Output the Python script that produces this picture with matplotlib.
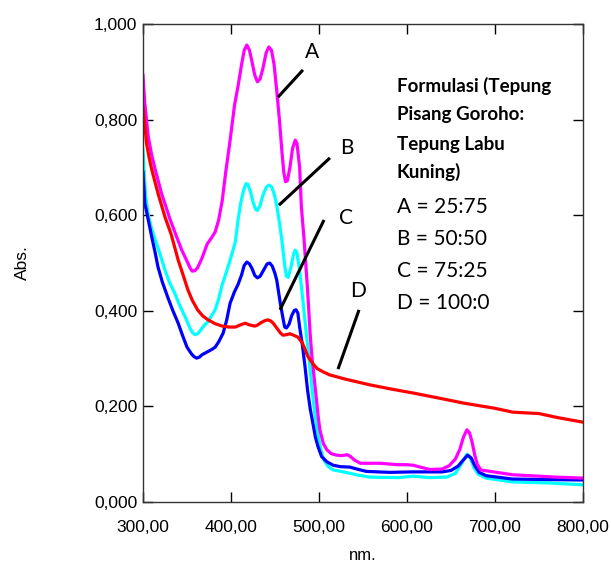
import matplotlib
matplotlib.use("Agg")
import matplotlib.pyplot as plt

# ---------------- data ----------------
wl_A = [300, 302, 306, 310, 314, 321, 331, 338, 344, 351, 354, 356, 359, 362, 367, 373, 378, 382, 386,
        390, 394, 399, 404, 408, 412, 415, 418, 421, 424, 427, 430, 433, 436, 440, 443, 446, 449, 452,
        455, 458, 460, 462, 464, 467, 470, 473, 475, 478, 480, 483, 487, 490, 492, 496, 499, 501, 505,
        509, 514, 520, 526, 532, 536, 540, 547, 569, 590, 600, 607, 615, 626, 640, 648, 655, 660, 664,
        668, 671, 674, 677, 680, 684, 702, 720, 740, 770, 800]
abs_A = [0.893, 0.835, 0.764, 0.725, 0.695, 0.646, 0.590, 0.556, 0.527, 0.500, 0.488, 0.483, 0.484,
         0.490, 0.510, 0.540, 0.553, 0.565, 0.590, 0.630, 0.690, 0.757, 0.830, 0.870, 0.915, 0.945,
         0.956, 0.945, 0.920, 0.893, 0.879, 0.885, 0.905, 0.940, 0.952, 0.945, 0.915, 0.860, 0.800,
         0.730, 0.690, 0.670, 0.672, 0.700, 0.740, 0.757, 0.750, 0.700, 0.617, 0.550, 0.444, 0.350,
         0.303, 0.234, 0.180, 0.151, 0.122, 0.109, 0.101, 0.098, 0.097, 0.099, 0.095, 0.088, 0.081,
         0.081, 0.078, 0.078, 0.077, 0.073, 0.068, 0.069, 0.076, 0.090, 0.110, 0.135, 0.151, 0.145,
         0.125, 0.098, 0.078, 0.067, 0.062, 0.057, 0.055, 0.052, 0.050]

wl_B = [300, 301, 303, 306, 310, 314, 320, 325, 330, 336, 342, 348, 353, 356, 359, 362, 365, 368, 374,
        378, 382, 386, 390, 393, 398, 402, 405, 408, 411, 414, 417, 419, 422, 425, 428, 430, 433, 436,
        440, 443, 446, 449, 452, 455, 458, 461, 463, 465, 468, 471, 473, 475, 478, 482, 486, 490, 493,
        496, 499, 502, 505, 510, 516, 525, 535, 545, 558, 590, 607, 625, 645, 655, 662, 668, 672, 676,
        681, 690, 720, 760, 800]
abs_B = [0.736, 0.700, 0.640, 0.600, 0.570, 0.548, 0.515, 0.485, 0.460, 0.437, 0.410, 0.387, 0.365,
         0.355, 0.350, 0.352, 0.358, 0.366, 0.378, 0.390, 0.402, 0.425, 0.455, 0.471, 0.500, 0.525,
         0.545, 0.590, 0.625, 0.650, 0.666, 0.665, 0.650, 0.628, 0.612, 0.610, 0.620, 0.640, 0.658,
         0.663, 0.660, 0.645, 0.620, 0.585, 0.545, 0.495, 0.472, 0.470, 0.490, 0.518, 0.527, 0.520,
         0.485, 0.416, 0.345, 0.276, 0.220, 0.175, 0.140, 0.110, 0.090, 0.075, 0.067, 0.064, 0.060,
         0.056, 0.052, 0.051, 0.054, 0.051, 0.052, 0.060, 0.080, 0.100, 0.092, 0.072, 0.058, 0.050,
         0.042, 0.040, 0.036]

wl_C = [300, 301, 302, 306, 310, 314, 317, 322, 328, 334, 340, 345, 350, 355, 358, 361, 364, 367, 370,
        375, 379, 382, 386, 391, 395, 399, 404, 408, 412, 415, 418, 421, 424, 427, 430, 433, 437, 441,
        444, 447, 450, 452, 456, 459, 461, 463, 466, 469, 472, 474, 476, 478, 481, 484, 487, 490, 493,
        496, 499, 503, 509, 516, 524, 535, 545, 554, 580, 607, 640, 650, 658, 664, 669, 673, 677, 682,
        690, 720, 760, 800]
abs_C = [0.690, 0.660, 0.626, 0.590, 0.554, 0.520, 0.492, 0.460, 0.429, 0.400, 0.374, 0.348, 0.324,
         0.310, 0.304, 0.301, 0.303, 0.308, 0.311, 0.316, 0.320, 0.324, 0.335, 0.353, 0.380, 0.416,
         0.440, 0.455, 0.475, 0.495, 0.502, 0.498, 0.488, 0.474, 0.469, 0.472, 0.485, 0.498, 0.500,
         0.493, 0.478, 0.464, 0.416, 0.385, 0.366, 0.364, 0.372, 0.390, 0.401, 0.402, 0.395, 0.366,
         0.330, 0.285, 0.234, 0.195, 0.165, 0.135, 0.115, 0.095, 0.084, 0.077, 0.074, 0.073, 0.068,
         0.064, 0.062, 0.063, 0.063, 0.066, 0.075, 0.088, 0.098, 0.092, 0.076, 0.062, 0.055, 0.048,
         0.047, 0.046]

wl_D = [300, 302, 304, 307, 310, 317, 325, 332, 340, 345, 351, 356, 362, 368, 374, 382, 390, 398, 405,
        410, 416, 422, 427, 430, 434, 438, 442, 445, 448, 452, 456, 459, 463, 467, 471, 476, 481, 484,
        487, 490, 494, 498, 505, 512, 530, 558, 580, 607, 640, 664, 700, 720, 740, 750, 770, 800]
abs_D = [0.826, 0.790, 0.750, 0.720, 0.695, 0.646, 0.596, 0.560, 0.506, 0.478, 0.444, 0.422, 0.402,
         0.389, 0.381, 0.373, 0.368, 0.366, 0.366, 0.370, 0.374, 0.370, 0.368, 0.370, 0.375, 0.379,
         0.381, 0.379, 0.374, 0.364, 0.354, 0.349, 0.350, 0.352, 0.349, 0.345, 0.333, 0.320, 0.306,
         0.297, 0.287, 0.279, 0.272, 0.266, 0.257, 0.245, 0.237, 0.228, 0.216, 0.207, 0.196, 0.188,
         0.186, 0.185, 0.177, 0.167]

x_ticks = [300, 400, 500, 600, 700, 800]
x_tick_labels = ["300,00", "400,00", "500,00", "600,00", "700,00", "800,00"]
y_ticks = [0.0, 0.2, 0.4, 0.6, 0.8, 1.0]
y_tick_labels = ["0,000", "0,200", "0,400", "0,600", "0,800", "1,000"]

legend_bold = ["Formulasi (Tepung", "Pisang Goroho:", "Tepung Labu", "Kuning)"]
legend_plain = ["A = 25:75", "B = 50:50", "C = 75:25", "D = 100:0"]

# ---------------- figure ----------------
W, H = 611, 562
fig = plt.figure(figsize=(W / 100, H / 100), dpi=100)
ax = fig.add_axes([143 / W, 60 / H, 440 / W, 478 / H])

lw = 2.3
ax.plot(wl_B, abs_B, color="#00FFFF", lw=lw, solid_joinstyle="round")
ax.plot(wl_C, abs_C, color="#0000FF", lw=lw, solid_joinstyle="round")
ax.plot(wl_A, abs_A, color="#FF00FF", lw=lw, solid_joinstyle="round")
ax.plot(wl_D, abs_D, color="#FF0000", lw=lw, solid_joinstyle="round")

ax.set_xlim(300, 800)
ax.set_ylim(0, 1.0)
ax.set_xticks(x_ticks)
ax.set_xticklabels(x_tick_labels)
ax.set_yticks(y_ticks)
ax.set_yticklabels(y_tick_labels)

for lab in ax.get_xticklabels() + ax.get_yticklabels():
    lab.set_fontfamily("Liberation Sans")
    lab.set_fontsize(12.5)

ax.tick_params(axis="both", direction="in", length=7.5, width=1.0,
               top=True, right=True, labeltop=False, labelright=False)
ax.tick_params(axis="x", pad=13)
ax.tick_params(axis="y", pad=4)
for s in ax.spines.values():
    s.set_linewidth(1.0)
    s.set_color("#333333")

ax.set_xlabel("nm.", fontfamily="Liberation Sans", fontsize=12, labelpad=9)
ax.set_ylabel("Abs.", fontfamily="Liberation Sans", fontsize=12.5, labelpad=46)

# annotation leader lines and letters
leaders = {
    "A": ((453.4, 0.847), (481.8, 0.904), (492.0, 0.941)),
    "B": ((454.5, 0.621), (512.5, 0.720), (531.8, 0.741)),
    "C": ((455.7, 0.402), (505.7, 0.590), (530.7, 0.594)),
    "D": ((521.6, 0.278), (545.5, 0.402), (544.3, 0.441)),
}
for name, (p0, p1, pt) in leaders.items():
    ax.plot([p0[0], p1[0]], [p0[1], p1[1]], color="black", lw=2.2, solid_capstyle="butt")
    ax.text(pt[0], pt[1], name, ha="center", va="center", fontfamily="Lato", fontsize=15)

# legend text block
bold_base = [92, 120, 150, 178]
plain_base = [213, 245, 277, 309]
for txt, yb in zip(legend_bold, bold_base):
    fig.text(397 / W, 1 - yb / H, txt, ha="left", va="baseline",
             fontfamily="Lato", fontweight="bold", fontsize=13.5)
for txt, yb in zip(legend_plain, plain_base):
    fig.text(397 / W, 1 - yb / H, txt, ha="left", va="baseline",
             fontfamily="Lato", fontsize=15)

fig.savefig("out.png", dpi=100)
